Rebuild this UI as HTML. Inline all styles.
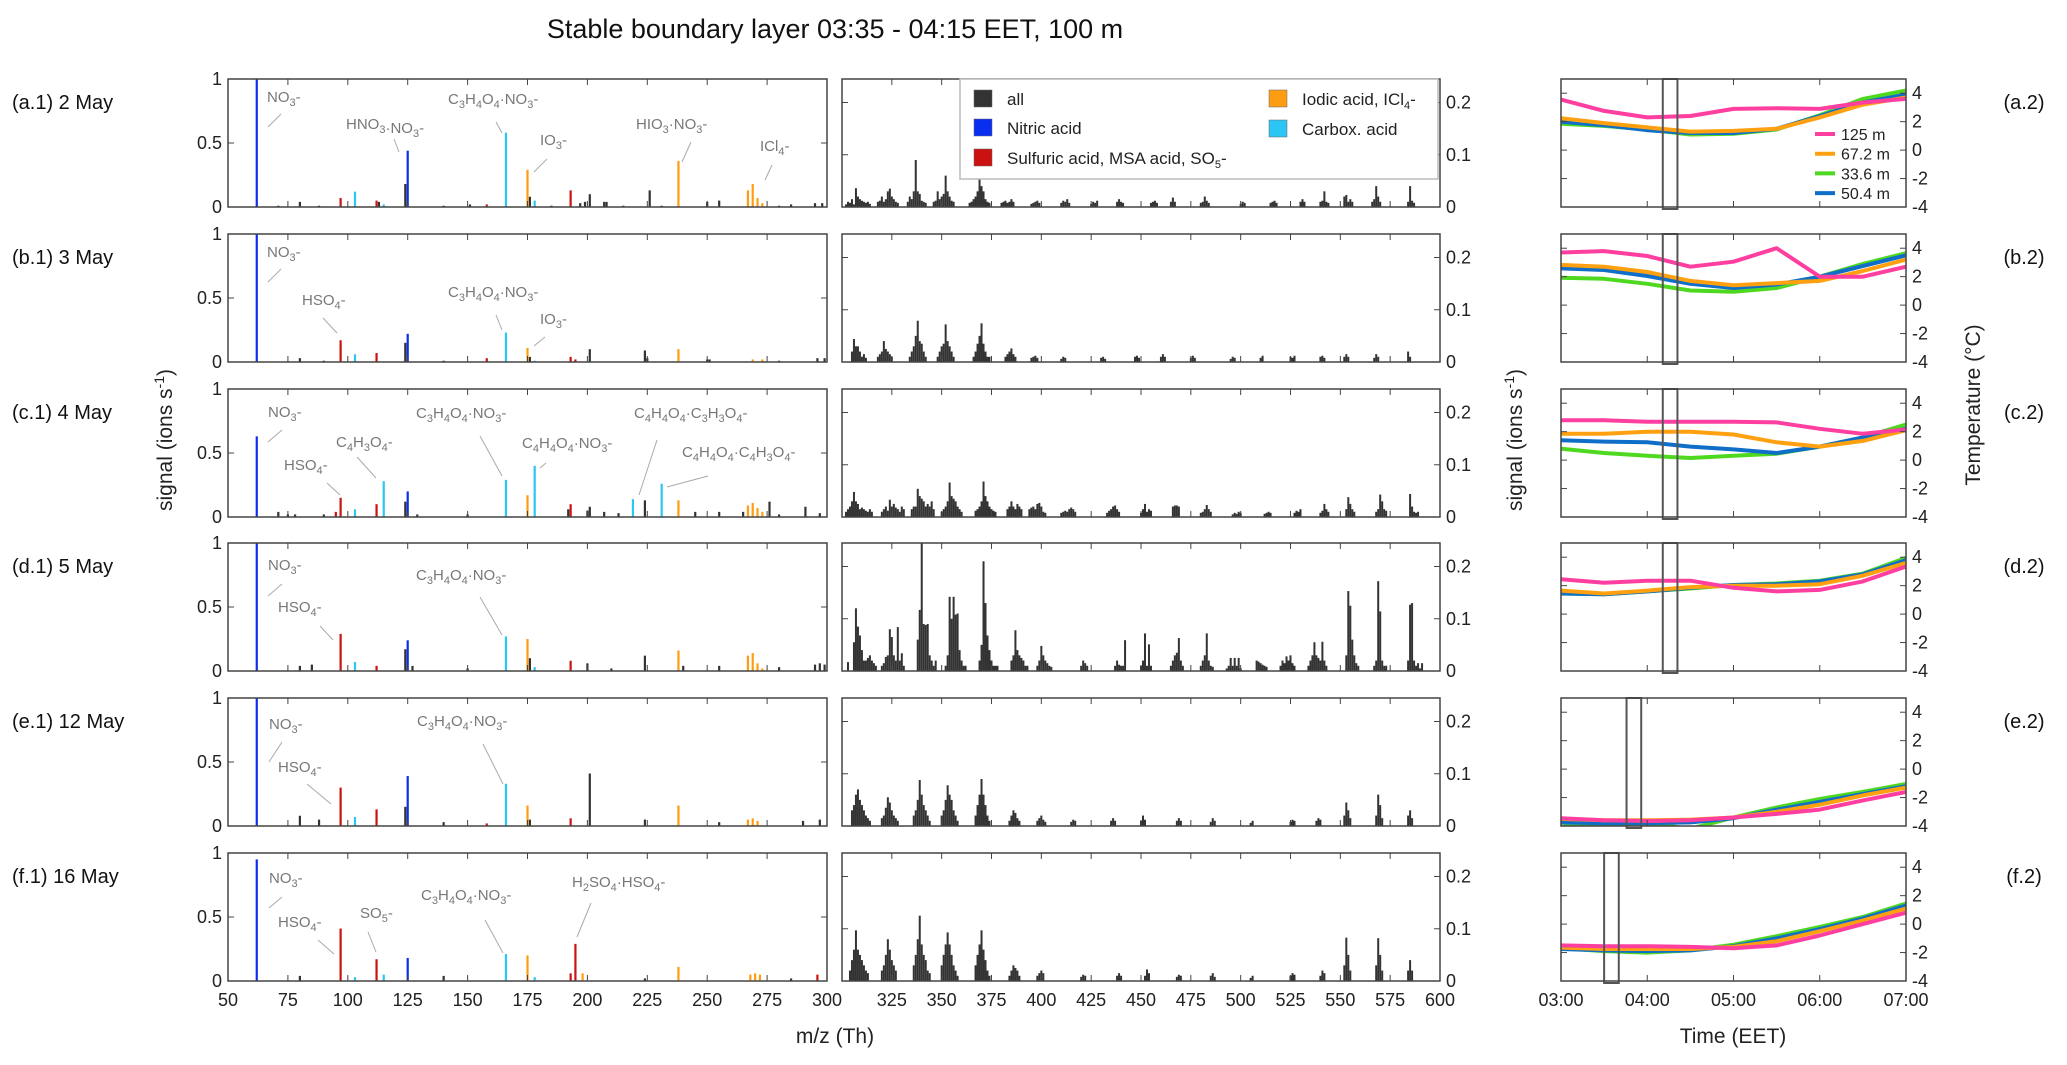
<!DOCTYPE html>
<html><head><meta charset="utf-8">
<style>
html,body{margin:0;padding:0;background:#fff;}
svg{display:block;font-family:"Liberation Sans",sans-serif;}
.tk{font-size:18px;fill:#222;}
.an{font-size:15px;fill:#777;}
</style></head>
<body>
<svg id="fig" width="2067" height="1065" viewBox="0 0 2067 1065" xmlns="http://www.w3.org/2000/svg">
<text x="835" y="38" text-anchor="middle" font-size="27" fill="#111">Stable boundary layer 03:35 - 04:15 EET, 100 m</text>
<text transform="translate(172,440) rotate(-90)" text-anchor="middle" font-size="21" fill="#222">signal (ions s<tspan dy="-8" font-size="14">-1</tspan><tspan dy="8">)</tspan></text>
<text transform="translate(1522,440) rotate(-90)" text-anchor="middle" font-size="21" fill="#222">signal (ions s<tspan dy="-8" font-size="14">-1</tspan><tspan dy="8">)</tspan></text>
<text transform="translate(1980,405) rotate(-90)" text-anchor="middle" font-size="21" fill="#222">Temperature (°C)</text>
<text x="835" y="1043" text-anchor="middle" font-size="21" fill="#222">m/z (Th)</text>
<text x="1733" y="1043" text-anchor="middle" font-size="21" fill="#222">Time (EET)</text>
<g id="content"></g>
</svg>
<script>
// ---------- data ----------
const rowLabels = ["(a.1) 2 May","(b.1) 3 May","(c.1) 4 May","(d.1) 5 May","(e.1) 12 May","(f.1) 16 May"];
const rightLabels = ["(a.2)","(b.2)","(c.2)","(d.2)","(e.2)","(f.2)"];
const lowTicks = [50,75,100,125,150,175,200,225,250,275,300];
const highTicks = [325,350,375,400,425,450,475,500,525,550,575,600];
const timeTicks = ["03:00","04:00","05:00","06:00","07:00"];
const tempTicks = [4,2,0,-2,-4];
const times = [0,0.5,1,1.5,2,2.5,3,3.5,4];
const heights = ["125 m","67.2 m","33.6 m","50.4 m"];
const lowA = [[62,1.0,"n"],[71,0.01,"k"],[80,0.04,"k"],[88,0.01,"k"],[97,0.07,"s"],[103,0.12,"c"],[112,0.05,"s"],[113,0.04,"k"],[115,0.02,"c"],[124,0.18,"k"],[125,0.44,"n"],[140,0.01,"k"],[151,0.02,"k"],[158,0.02,"s"],[166,0.58,"c"],[175,0.29,"i"],[176,0.08,"k"],[178,0.05,"c"],[185,0.01,"k"],[193,0.13,"s"],[197,0.03,"k"],[199,0.04,"k"],[201,0.1,"k"],[207,0.04,"k"],[208,0.04,"k"],[215,0.01,"k"],[226,0.13,"k"],[231,0.01,"k"],[238,0.36,"i"],[250,0.04,"k"],[255,0.05,"k"],[267,0.13,"i"],[269,0.18,"i"],[271,0.07,"i"],[273,0.03,"i"],[280,0.01,"k"],[285,0.02,"k"],[295,0.03,"k"],[298,0.03,"k"]];
const lowB = [[62,1.0,"n"],[80,0.03,"k"],[90,0.01,"k"],[97,0.17,"s"],[103,0.06,"c"],[112,0.07,"s"],[124,0.15,"k"],[125,0.22,"n"],[140,0.01,"k"],[158,0.03,"s"],[166,0.23,"c"],[175,0.11,"i"],[176,0.04,"k"],[178,0.01,"c"],[193,0.04,"s"],[195,0.02,"s"],[201,0.1,"k"],[224,0.09,"k"],[225,0.03,"k"],[238,0.1,"i"],[250,0.02,"k"],[251,0.02,"k"],[269,0.02,"i"],[273,0.02,"i"],[280,0.01,"k"],[296,0.03,"k"],[299,0.03,"k"]];
const lowC = [[62,0.63,"n"],[71,0.04,"k"],[75,0.02,"k"],[78,0.02,"k"],[90,0.02,"k"],[95,0.04,"s"],[97,0.15,"s"],[103,0.06,"c"],[112,0.1,"s"],[115,0.28,"c"],[124,0.12,"k"],[125,0.2,"n"],[129,0.02,"k"],[150,0.02,"k"],[166,0.29,"c"],[175,0.17,"i"],[178,0.4,"c"],[192,0.06,"k"],[193,0.1,"s"],[200,0.05,"k"],[201,0.08,"k"],[207,0.04,"k"],[213,0.03,"k"],[219,0.14,"c"],[224,0.13,"k"],[231,0.26,"c"],[238,0.13,"i"],[245,0.04,"k"],[255,0.04,"k"],[265,0.04,"k"],[267,0.09,"i"],[269,0.11,"i"],[271,0.07,"i"],[273,0.04,"i"],[276,0.12,"k"],[280,0.02,"k"],[291,0.08,"k"],[297,0.03,"k"]];
const lowD = [[62,1.0,"n"],[80,0.04,"k"],[85,0.05,"k"],[97,0.29,"s"],[103,0.07,"c"],[112,0.04,"s"],[124,0.17,"k"],[125,0.24,"n"],[127,0.04,"k"],[150,0.02,"k"],[166,0.27,"c"],[175,0.25,"i"],[176,0.1,"k"],[178,0.03,"c"],[193,0.08,"s"],[200,0.06,"k"],[210,0.02,"k"],[224,0.12,"k"],[238,0.16,"i"],[240,0.04,"k"],[255,0.04,"k"],[267,0.12,"i"],[269,0.14,"i"],[271,0.06,"i"],[273,0.02,"i"],[280,0.03,"k"],[295,0.05,"k"],[297,0.06,"k"],[299,0.05,"k"]];
const lowE = [[62,1.0,"n"],[80,0.08,"k"],[88,0.05,"k"],[97,0.3,"s"],[103,0.07,"c"],[112,0.13,"s"],[124,0.15,"k"],[125,0.39,"n"],[140,0.03,"k"],[158,0.02,"s"],[166,0.33,"c"],[175,0.16,"i"],[176,0.05,"k"],[193,0.06,"s"],[201,0.41,"k"],[224,0.05,"k"],[238,0.16,"i"],[255,0.03,"k"],[267,0.05,"i"],[269,0.06,"i"],[271,0.04,"i"],[290,0.04,"k"],[297,0.05,"k"]];
const lowF = [[62,0.95,"n"],[80,0.04,"k"],[97,0.41,"s"],[103,0.03,"c"],[112,0.17,"s"],[115,0.05,"c"],[125,0.18,"n"],[140,0.04,"k"],[166,0.21,"c"],[175,0.2,"i"],[178,0.03,"c"],[193,0.06,"s"],[195,0.29,"s"],[198,0.06,"i"],[224,0.02,"k"],[238,0.11,"i"],[268,0.05,"i"],[270,0.06,"i"],[272,0.05,"i"],[285,0.02,"k"],[296,0.05,"s"]];
const highA = [[302,[0.005,0.01,0.008,0.015,0.005,0.036,0.02,0.015,0.012,0.01,0.008,0.01,0.006]],[318,[0.01,0.012,0.02,0.01,0.015,0.03,0.035,0.02,0.015,0.01,0.008]],[333,[0.01,0.02,0.015,0.03,0.09,0.03,0.025,0.012,0.01,0.008]],[346,[0.01,0.012,0.03,0.015,0.02,0.025,0.06,0.03,0.02,0.012,0.01]],[364,[0.008,0.01,0.015,0.02,0.03,0.062,0.04,0.03,0.015,0.01,0.008]],[380,[0.008,0.01,0.012,0.008,0.01,0.015,0.01]],[395,[0.006,0.008,0.01,0.012,0.008]],[410,[0.008,0.012,0.01,0.015,0.008]],[425,[0.006,0.01,0.008,0.012]],[438,[0.01,0.015,0.01,0.008]],[455,[0.008,0.01,0.012,0.008]],[465,[0.01,0.018,0.01]],[480,[0.008,0.01,0.02,0.012,0.008]],[500,[0.006,0.01,0.008]],[515,[0.008,0.01,0.012,0.008]],[530,[0.01,0.015,0.01]],[540,[0.01,0.012,0.03,0.01,0.008]],[552,[0.02,0.023,0.01,0.015,0.01]],[566,[0.01,0.015,0.04,0.02,0.01]],[584,[0.01,0.04,0.012,0.008]]];
const highB = [[305,[0.02,0.044,0.03,0.03,0.02,0.01,0.015,0.008]],[318,[0.01,0.015,0.02,0.04,0.025,0.02,0.015,0.01]],[334,[0.01,0.02,0.03,0.05,0.079,0.04,0.035,0.02,0.01]],[348,[0.01,0.02,0.03,0.035,0.072,0.04,0.03,0.02,0.01]],[366,[0.01,0.02,0.035,0.05,0.074,0.035,0.02,0.01,0.01]],[382,[0.01,0.015,0.02,0.026,0.015,0.01]],[395,[0.008,0.01,0.012,0.008]],[410,[0.006,0.01,0.008]],[430,[0.008,0.01,0.006]],[447,[0.01,0.012,0.008]],[460,[0.01,0.015,0.01]],[475,[0.008,0.012,0.008]],[495,[0.006,0.01,0.008]],[510,[0.008,0.012]],[525,[0.01,0.008,0.012]],[540,[0.01,0.012,0.008]],[552,[0.01,0.015,0.01]],[567,[0.008,0.015,0.01]],[584,[0.02,0.01]]];
const highC = [[302,[0.01,0.015,0.02,0.03,0.048,0.03,0.025,0.015,0.018,0.015,0.012,0.01,0.015,0.01]],[320,[0.01,0.015,0.02,0.012,0.033,0.02,0.025,0.018,0.015,0.01,0.02,0.015]],[335,[0.015,0.02,0.02,0.054,0.04,0.035,0.03,0.02,0.025,0.02,0.03,0.015]],[350,[0.01,0.015,0.02,0.03,0.066,0.04,0.035,0.03,0.02,0.015,0.01]],[367,[0.012,0.015,0.02,0.03,0.068,0.04,0.03,0.02,0.015,0.012,0.01]],[383,[0.015,0.02,0.03,0.02,0.015,0.025,0.02,0.015]],[394,[0.015,0.018,0.02,0.015,0.025,0.027,0.02,0.01,0.008]],[410,[0.008,0.01,0.012,0.01,0.015,0.018,0.015,0.01]],[433,[0.008,0.012,0.015,0.02,0.022,0.015,0.01]],[450,[0.008,0.015,0.025,0.01,0.015,0.012]],[466,[0.02,0.022,0.022,0.02]],[480,[0.008,0.01,0.015,0.023,0.015,0.01]],[496,[0.005,0.008,0.006,0.01,0.008]],[512,[0.006,0.008,0.01,0.008]],[527,[0.008,0.012,0.01,0.015]],[540,[0.008,0.012,0.025,0.015,0.01]],[553,[0.015,0.038,0.025,0.015,0.01]],[568,[0.01,0.015,0.043,0.03,0.015,0.012]],[585,[0.044,0.02,0.01,0.008,0.01]]];
const highD = [[303,[0.017]],[306,[0.055,0.12,0.085,0.068,0.04,0.02,0.02,0.025,0.03,0.02,0.015,0.01]],[320,[0.01,0.015,0.027,0.03,0.08,0.065,0.03,0.02,0.084,0.02,0.034,0.01]],[338,[0.06,0.117,0.245,0.09,0.088,0.09,0.03,0.02,0.01,0.02]],[352,[0.01,0.03,0.142,0.1,0.142,0.108,0.11,0.04,0.02,0.01,0.01]],[369,[0.02,0.05,0.21,0.13,0.068,0.04,0.02,0.01,0.01,0.01]],[385,[0.02,0.03,0.078,0.04,0.03,0.025,0.02,0.01,0.01]],[398,[0.01,0.02,0.048,0.03,0.02,0.015,0.01,0.008]],[420,[0.01,0.02,0.015,0.01]],[437,[0.01,0.02,0.012,0.01,0.01,0.059]],[450,[0.01,0.02,0.072,0.01,0.051,0.01]],[465,[0.01,0.02,0.03,0.035,0.063,0.02,0.01]],[480,[0.01,0.02,0.03,0.072,0.02,0.01,0.008]],[493,[0.005,0.01,0.025,0.01,0.025,0.01,0.025,0.005]],[508,[0.02,0.018,0.015,0.012,0.01,0.008]],[520,[0.01,0.02,0.015,0.028,0.02,0.03,0.015,0.01]],[534,[0.01,0.02,0.03,0.055,0.03,0.025,0.02,0.056,0.02,0.01]],[553,[0.03,0.153,0.125,0.06,0.03,0.015,0.01]],[567,[0.01,0.02,0.172,0.114,0.02,0.01,0.01]],[584,[0.02,0.127,0.13,0.02,0.01,0.015,0.005,0.015]]];
const highE = [[305,[0.03,0.04,0.06,0.07,0.05,0.04,0.03,0.02,0.015,0.01]],[320,[0.015,0.02,0.035,0.055,0.045,0.03,0.02,0.015,0.01]],[336,[0.02,0.03,0.05,0.088,0.06,0.04,0.03,0.02,0.01]],[350,[0.02,0.03,0.05,0.078,0.06,0.05,0.03,0.02,0.01]],[367,[0.02,0.04,0.06,0.09,0.06,0.04,0.02,0.01]],[384,[0.01,0.02,0.03,0.025,0.015,0.01]],[398,[0.01,0.015,0.02,0.012,0.008]],[415,[0.008,0.012,0.01]],[435,[0.01,0.015,0.01]],[450,[0.01,0.02,0.012]],[468,[0.01,0.015,0.01]],[485,[0.008,0.015,0.01]],[505,[0.006,0.01]],[525,[0.008,0.012,0.01]],[538,[0.01,0.015,0.012]],[552,[0.02,0.045,0.03,0.015]],[568,[0.02,0.06,0.04,0.015]],[584,[0.02,0.03,0.015]]];
const highF = [[304,[0.02,0.04,0.06,0.097,0.06,0.05,0.04,0.03,0.02,0.015]],[320,[0.02,0.03,0.05,0.08,0.06,0.04,0.03,0.02]],[336,[0.03,0.05,0.08,0.125,0.07,0.05,0.04,0.02,0.015]],[350,[0.03,0.05,0.07,0.093,0.07,0.05,0.03,0.02,0.01]],[367,[0.03,0.05,0.07,0.097,0.06,0.04,0.02,0.01]],[384,[0.01,0.02,0.03,0.025,0.02,0.01]],[398,[0.01,0.015,0.02,0.015]],[420,[0.008,0.012,0.01]],[438,[0.01,0.015,0.01]],[452,[0.01,0.022,0.015]],[468,[0.008,0.012,0.01]],[485,[0.01,0.015,0.008]],[505,[0.006,0.01]],[525,[0.01,0.015,0.012]],[540,[0.01,0.02,0.015]],[552,[0.03,0.083,0.05,0.02]],[568,[0.03,0.082,0.05,0.02]],[584,[0.02,0.04,0.02]]];
const tempA = [[3.55,2.76,2.3,2.4,2.9,2.95,2.9,3.35,3.6],[2.24,1.9,1.6,1.3,1.35,1.5,2.3,3.2,3.7],[1.86,1.7,1.45,1.1,1.15,1.45,2.45,3.6,4.2],[2.0,1.75,1.4,1.2,1.2,1.5,2.4,3.35,3.9]];
const tempB = [[3.7,3.8,3.45,2.7,3.05,4.0,2.0,2.0,2.7],[2.83,2.7,2.33,1.7,1.4,1.55,1.7,2.4,3.2],[1.93,1.85,1.5,1.03,0.94,1.2,2.0,2.9,3.65],[2.58,2.47,2.05,1.5,1.2,1.45,2.0,2.75,3.5]];
const tempC = [[2.8,2.8,2.7,2.7,2.7,2.65,2.2,1.85,2.15],[1.85,1.85,2.0,2.0,1.8,1.25,0.95,1.35,2.1],[0.8,0.5,0.3,0.15,0.3,0.45,0.95,1.6,2.5],[1.4,1.3,1.25,0.95,0.75,0.5,0.95,1.6,2.2]];
const tempD = [[2.45,2.2,2.35,2.35,1.85,1.6,1.7,2.3,3.35],[1.65,1.45,1.65,1.9,2.0,2.0,2.1,2.7,3.6],[1.45,1.4,1.6,1.8,2.05,2.15,2.35,2.85,3.95],[1.45,1.4,1.6,1.85,2.05,2.1,2.3,2.8,3.8]];
const tempE = [[-3.45,-3.6,-3.65,-3.6,-3.4,-3.15,-2.85,-2.2,-1.6],[-3.5,-3.6,-3.6,-3.55,-3.4,-3.0,-2.5,-1.85,-1.3],[-4.05,-3.85,-3.8,-4.2,-3.4,-2.7,-2.1,-1.6,-1.05],[-3.75,-3.8,-3.8,-3.75,-3.45,-2.85,-2.3,-1.75,-1.2]];
const tempF = [[-1.5,-1.55,-1.55,-1.6,-1.7,-1.5,-0.8,0.0,0.8],[-1.65,-1.75,-1.75,-1.75,-1.6,-1.2,-0.5,0.25,1.1],[-1.7,-1.9,-2.0,-1.85,-1.45,-0.85,-0.2,0.5,1.45],[-1.75,-1.85,-1.9,-1.85,-1.55,-1.0,-0.35,0.4,1.3]];
const windows = [[1.18,1.35],[1.18,1.35],[1.18,1.35],[1.18,1.35],[0.76,0.93],[0.5,0.67]];

const lowSets=[lowA,lowB,lowC,lowD,lowE,lowF];
const highSets=[highA,highB,highC,highD,highE,highF];
const tempSets=[tempA,tempB,tempC,tempD,tempE,tempF];

const NS="http://www.w3.org/2000/svg";
const root=document.getElementById('content');
const COL={k:"#333333",n:"#0a2ef0",s:"#cc1111",i:"#ff9d12",c:"#2cc6f4"};
const LINECOL=["#ff3fa0","#ffa010","#4fd820","#0f6fc8"];
const DRAW_ORDER=[2,3,1,0];
const ROW_TOP=79, ROW_PITCH=154.8, PH=128;
const LX0=228, LX1=827, MX0=842, MX1=1440, RX0=1561, RX1=1906;
const MAXHIGH=0.245, TMIN=-4, TMAX=5;
function el(tag,attrs,parent){const e=document.createElementNS(NS,tag);for(const k in attrs)e.setAttribute(k,attrs[k]);(parent||root).appendChild(e);return e;}
const xLow=m=>LX0+(m-50)/250*(LX1-LX0);
const xHigh=m=>MX0+(m-300)/300*(MX1-MX0);
const xTime=h=>RX0+h/4*(RX1-RX0);

const S=(t)=>'<tspan dy="4" font-size="11">'+t+'</tspan><tspan dy="-4">';
const annos=[
 [["NO"+S("3")+"-</tspan>",267,102,281,114,268,127],["HNO"+S("3")+"</tspan>·NO"+S("3")+"-</tspan>",346,129,394,139,399,152],["C"+S("3")+"H</tspan>"+S("4")+"O</tspan>"+S("4")+"·NO</tspan>"+S("3")+"-</tspan>",448,104,496,122,502,133],["IO"+S("3")+"-</tspan>",540,145,547,159,534,172],["HIO"+S("3")+"·NO</tspan>"+S("3")+"-</tspan>",636,129,691,142,682,162],["ICl"+S("4")+"-</tspan>",760,151,772,165,765,180]],
 [["NO"+S("3")+"-</tspan>",267,257,281,269,268,282],["HSO"+S("4")+"-</tspan>",302,305,323,318,337,333],["C"+S("3")+"H</tspan>"+S("4")+"O</tspan>"+S("4")+"·NO</tspan>"+S("3")+"-</tspan>",448,297,496,315,502,330],["IO"+S("3")+"-</tspan>",540,324,545,337,534,346]],
 [["NO"+S("3")+"-</tspan>",268,417,282,430,268,442],["C"+S("4")+"H</tspan>"+S("3")+"O</tspan>"+S("4")+"-</tspan>",336,447,357,457,376,478],["HSO"+S("4")+"-</tspan>",284,470,327,483,340,495],["C"+S("3")+"H</tspan>"+S("4")+"O</tspan>"+S("4")+"·NO</tspan>"+S("3")+"-</tspan>",416,418,480,436,502,476],["C"+S("4")+"H</tspan>"+S("4")+"O</tspan>"+S("4")+"·NO</tspan>"+S("3")+"-</tspan>",522,448,546,463,540,468],["C"+S("4")+"H</tspan>"+S("4")+"O</tspan>"+S("4")+"·C</tspan>"+S("3")+"H</tspan>"+S("3")+"O</tspan>"+S("4")+"-</tspan>",634,418,657,440,639,495],["C"+S("4")+"H</tspan>"+S("4")+"O</tspan>"+S("4")+"·C</tspan>"+S("4")+"H</tspan>"+S("3")+"O</tspan>"+S("4")+"-</tspan>",682,457,708,476,667,487]],
 [["NO"+S("3")+"-</tspan>",268,570,282,584,268,596],["HSO"+S("4")+"-</tspan>",278,612,320,626,333,640],["C"+S("3")+"H</tspan>"+S("4")+"O</tspan>"+S("4")+"·NO</tspan>"+S("3")+"-</tspan>",416,580,480,597,502,635]],
 [["NO"+S("3")+"-</tspan>",269,729,282,742,269,762],["HSO"+S("4")+"-</tspan>",278,772,307,784,331,804],["C"+S("3")+"H</tspan>"+S("4")+"O</tspan>"+S("4")+"·NO</tspan>"+S("3")+"-</tspan>",417,726,483,744,503,784]],
 [["NO"+S("3")+"-</tspan>",269,883,282,897,269,908],["HSO"+S("4")+"-</tspan>",278,927,318,940,334,954],["SO"+S("5")+"-</tspan>",360,918,368,932,376,952],["C"+S("3")+"H</tspan>"+S("4")+"O</tspan>"+S("4")+"·NO</tspan>"+S("3")+"-</tspan>",421,900,485,920,503,953],["H"+S("2")+"SO</tspan>"+S("4")+"·HSO</tspan>"+S("4")+"-</tspan>",572,887,591,903,577,937]]
];

for(let r=0;r<6;r++){
  const top=Math.round(ROW_TOP+r*ROW_PITCH), bot=top+PH;
  const yLow=v=>bot-v*PH, yHigh=v=>bot-v/MAXHIGH*PH, yT=t=>bot-(t-TMIN)/(TMAX-TMIN)*PH;
  const g=el('g',{});
  
  
  const lab=el('text',{x:12,y:top+30,'font-size':20,fill:'#111'},g); lab.textContent=rowLabels[r];
  
  
  const rl=el('text',{x:2024,y:top+30,'font-size':20,fill:'#111','text-anchor':'middle'},g); rl.textContent=rightLabels[r];
  
  

  const cp=el('clipPath',{id:'cp'+r},g); el('rect',{x:RX0,y:top,width:RX1-RX0,height:PH},cp);

  for(const [m,v,c] of lowSets[r]){
    const b=el('rect',{x:xLow(m)-1.1,y:yLow(v),width:2.2,height:v*PH,fill:COL[c]},g);
    
    
  }
  for(const [s,vals] of highSets[r]){
    vals.forEach((v,j)=>{
      const b=el('rect',{x:xHigh(s+j)-1,y:yHigh(v),width:2,height:v/MAXHIGH*PH,fill:COL.k},g);
      
      
    });
  }
  for(const a of annos[r]){
    const t=el('text',{x:a[1],y:a[2],'class':'an'},g); t.innerHTML=a[0];
    
    
    const ln=el('line',{x1:a[3],y1:a[4],x2:a[5],y2:a[6],stroke:'#aaa','stroke-width':1},g);
    
    
  }
  const tg=el('g',{'clip-path':'url(#cp'+r+')'},g);
  for(const k of DRAW_ORDER){
    const pts=times.map((h,i)=>xTime(h).toFixed(1)+','+yT(tempSets[r][k][i]).toFixed(1)).join(' ');
    const pl=el('polyline',{points:pts,fill:'none',stroke:LINECOL[k],'stroke-width':4,'stroke-linejoin':'round'},tg);
    
    
  }
  const w=windows[r];
  const wb=el('rect',{x:xTime(w[0]),y:top,width:xTime(w[1])-xTime(w[0]),height:PH+2,fill:'none',stroke:'#555','stroke-width':2},g);
  
  

  for(const [x0,x1,nm] of [[LX0,LX1,'low-mz-axes'],[MX0,MX1,'high-mz-axes'],[RX0,RX1,'temperature-axes']]){
    const bx=el('rect',{x:x0,y:top,width:x1-x0,height:PH,fill:'none',stroke:'#444','stroke-width':1.5},g);
    
    
  }
  for(const m of lowTicks){ const x=xLow(m); el('line',{x1:x,y1:top,x2:x,y2:top+6,stroke:'#444'},g); el('line',{x1:x,y1:bot,x2:x,y2:bot-6,stroke:'#444'},g);
    if(r==5){const t=el('text',{x:x,y:bot+25,'class':'tk','text-anchor':'middle'},g);t.textContent=m;
      
      }}
  for(const v of [0,0.5,1]){ const y=yLow(v); el('line',{x1:LX0,y1:y,x2:LX0+6,y2:y,stroke:'#444'},g); el('line',{x1:LX1,y1:y,x2:LX1-6,y2:y,stroke:'#444'},g);
    const t=el('text',{x:LX0-6,y:y+6,'class':'tk','text-anchor':'end'},g);t.textContent=v;
    
    }
  for(const m of highTicks){ const x=xHigh(m); el('line',{x1:x,y1:top,x2:x,y2:top+6,stroke:'#444'},g); el('line',{x1:x,y1:bot,x2:x,y2:bot-6,stroke:'#444'},g);
    if(r==5){const t=el('text',{x:x,y:bot+25,'class':'tk','text-anchor':'middle'},g);t.textContent=m;
      
      }}
  for(const v of [0,0.1,0.2]){ const y=yHigh(v); el('line',{x1:MX0,y1:y,x2:MX0+6,y2:y,stroke:'#444'},g); el('line',{x1:MX1,y1:y,x2:MX1-6,y2:y,stroke:'#444'},g);
    const t=el('text',{x:MX1+6,y:y+6,'class':'tk'},g);t.textContent=v;
    
    }
  timeTicks.forEach((lbl,i)=>{ const x=xTime(i); el('line',{x1:x,y1:top,x2:x,y2:top+6,stroke:'#444'},g); el('line',{x1:x,y1:bot,x2:x,y2:bot-6,stroke:'#444'},g);
    if(r==5){const t=el('text',{x:x,y:bot+25,'class':'tk','text-anchor':'middle'},g);t.textContent=lbl;
      
      }});
  for(const v of tempTicks){ const y=yT(v); el('line',{x1:RX0,y1:y,x2:RX0+6,y2:y,stroke:'#444'},g); el('line',{x1:RX1,y1:y,x2:RX1-6,y2:y,stroke:'#444'},g);
    const t=el('text',{x:RX1+6,y:y+6,'class':'tk'},g);t.textContent=v;
    
    }
}

const lg=el('g',{});


el('rect',{x:960,y:79,width:478,height:100,fill:'#fff',stroke:'#bbb','stroke-width':1.5},lg);
const legItems=[["all","k",974,99],["Nitric acid","n",974,128],["Sulfuric acid, MSA acid, SO<tspan dy='4' font-size='11'>5</tspan><tspan dy='-4'>-</tspan>","s",974,158],["Iodic acid, ICl<tspan dy='4' font-size='11'>4</tspan><tspan dy='-4'>-</tspan>","i",1269,99],["Carbox. acid","c",1269,129]];
for(const [txt,c,x,y] of legItems){
  const sw=el('rect',{x:x,y:y-9,width:18,height:17,fill:COL[c],stroke:'#666','stroke-width':0.5},lg);
  
  
  const t=el('text',{x:x+33,y:y+6,'font-size':17,fill:'#222'},lg); t.innerHTML=txt;
  
  
}
const tl=el('g',{});


heights.forEach((h,i)=>{
  const y=134+i*19.7;
  el('line',{x1:1815,y1:y,x2:1835,y2:y,stroke:LINECOL[i],'stroke-width':4},tl);
  const t=el('text',{x:1841,y:y+6,'font-size':16,fill:'#222'},tl); t.textContent=h;
  
  
});
</script>
</body></html>
